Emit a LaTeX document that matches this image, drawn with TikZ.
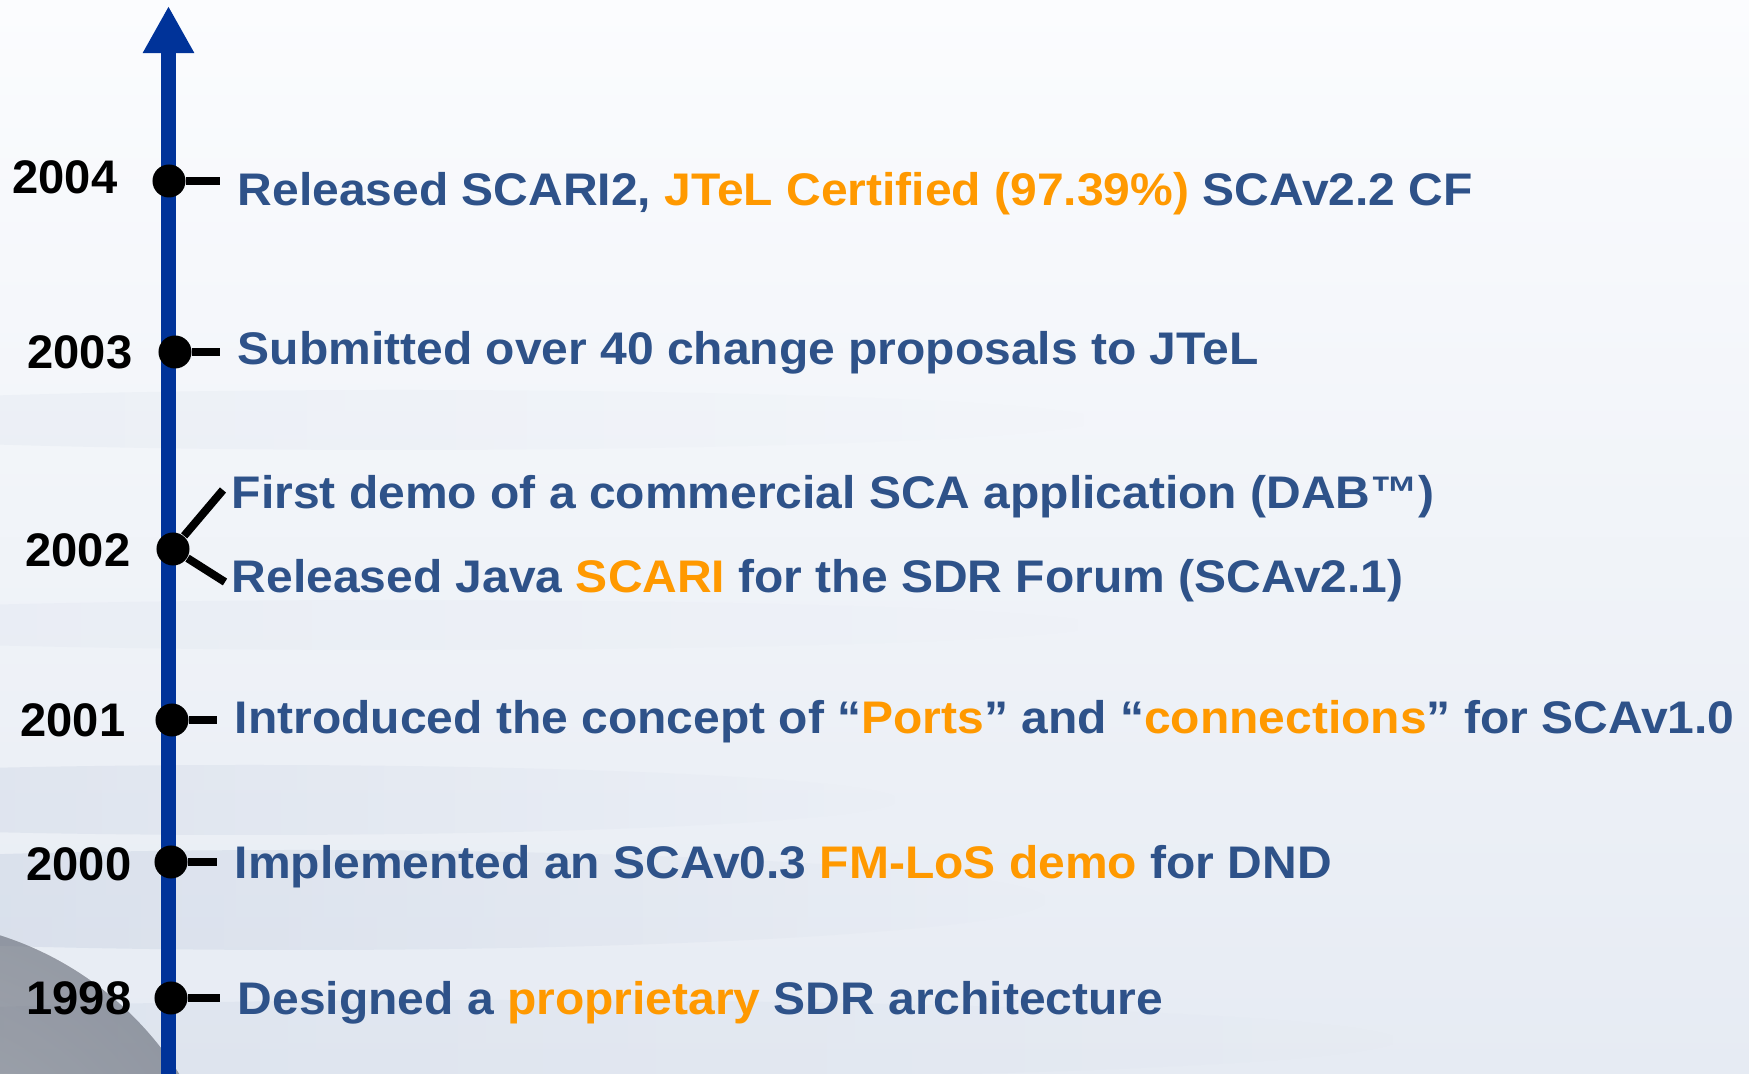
\documentclass[tikz,border=0pt]{standalone}
\usepackage{fontspec}
\setmainfont{Liberation Sans}
\newfontfamily\eventfont{Liberation Sans}[FakeStretch=1.05]
\usetikzlibrary{arrows.meta,fadings}
\definecolor{axisblue}{HTML}{003399}
\definecolor{textblue}{HTML}{2E5289}
\definecolor{hiorange}{HTML}{FF9900}
\definecolor{bgtop}{HTML}{FBFCFE}
\definecolor{bgbot}{HTML}{E6EBF3}
\definecolor{streak}{HTML}{B9C5DA}
\definecolor{globe}{HTML}{8E9AB2}
\newcommand{\linesize}{\fontsize{13}{15}\selectfont}
\newcommand{\yearsize}{\fontsize{13.4}{15}\selectfont}
\newcommand{\hl}[1]{\textcolor{hiorange}{#1}}
\tikzset{
    year/.style = {anchor=east, inner sep=0pt, text height=0.33cm, text depth=0pt, font=\bfseries\yearsize, text=black},
    event/.style = {anchor=west, inner xsep=0.17cm, inner ysep=0pt, text height=0.33cm, text depth=0pt, font=\eventfont\bfseries\linesize, text=textblue},
    dot/.style = {circle, fill=black, inner sep=0pt, minimum size=0.33cm},
    tick/.style = {line width=0.08cm, black},
    axis/.style = {line width=0.15cm, axisblue, -{Triangle[width=0.48cm,length=0.47cm]}},
    streakfill/.style = {fill=streak, path fading=east}
}

\begin{document}
\begin{tikzpicture}[x=0.01cm, y=-0.01cm]
\useasboundingbox (0,0) rectangle (1749,1074);
% background
\begin{scope}
\clip (0,0) rectangle (1749,1074);
\fill[top color=bgtop, bottom color=bgbot] (0,0) rectangle (1749,1074);
\fill[streakfill, opacity=0.15] (400,420) ellipse (700 and 30);
\fill[streakfill, opacity=0.12] (400,625) ellipse (700 and 25);
\fill[streakfill, opacity=0.35] (250,800) ellipse (650 and 35);
\fill[streakfill, opacity=0.45] (300,900) ellipse (750 and 50);
\fill[streakfill, opacity=0.25] (500,1040) ellipse (900 and 40);
\fill[inner color=globe!30, outer color=globe!80, opacity=0.4] (-100,1250) circle (330);
\end{scope}

% time axis
\coordinate (axbot) at (168.5,1074);
\coordinate (axtop) at (168.5,6);
\draw[axis] (axbot) -- (axtop);

% dots
\node (d2004) [dot] at (169,181) {};
\node (d2003) [dot] at (175,352) {};
\node (d2002) [dot] at (173,549) {};
\node (d2001) [dot] at (172,720) {};
\node (d2000) [dot] at (171,862) {};
\node (d1998) [dot] at (171,998) {};

% years
\node (y2004) [year] at (118,177) {2004};
\node (y2003) [year] at (133,352) {2003};
\node (y2002) [year] at (131,550) {2002};
\node (y2001) [year] at (126,720) {2001};
\node (y2000) [year] at (132,864) {2000};
\node (y1998) [year] at (132,998) {1998};

% events
\node (t2004) [event] at (220,189) {Released SCARI2, \hl{JTeL Certified (97.39\%)} SCAv2.2 CF};
\node (t2003) [event] at (220,348) {Submitted over 40 change proposals to JTeL};
\node (t2002a) [event] at (214,492) {First demo of a commercial SCA application (DAB™)};
\node (t2002b) [event] at (214,576) {Released Java \hl{SCARI} for the SDR Forum (SCAv2.1)};
\node (t2001) [event] at (217,717) {Introduced the concept of “\hl{Ports}” and “\hl{connections}” for SCAv1.0};
\node (t2000) [event] at (217,862) {Implemented an SCAv0.3 \hl{FM-LoS demo} for DND};
\node (t1998) [event] at (220,998) {Designed a \hl{proprietary} SDR architecture};

\coordinate (b2002a) at (223,490);
\coordinate (b2002b) at (225,582);

\draw[tick] (d2004) -- (d2004 -| t2004.west);
\draw[tick] (d2003) -- (d2003 -| t2003.west);
\draw[tick] (d2002) -- (b2002a);
\draw[tick] (d2002) -- (b2002b);
\draw[tick] (d2001) -- (d2001 -| t2001.west);
\draw[tick] (d2000) -- (d2000 -| t2000.west);
\draw[tick] (d1998) -- (d1998 -| t1998.west);
\end{tikzpicture}
\end{document}
